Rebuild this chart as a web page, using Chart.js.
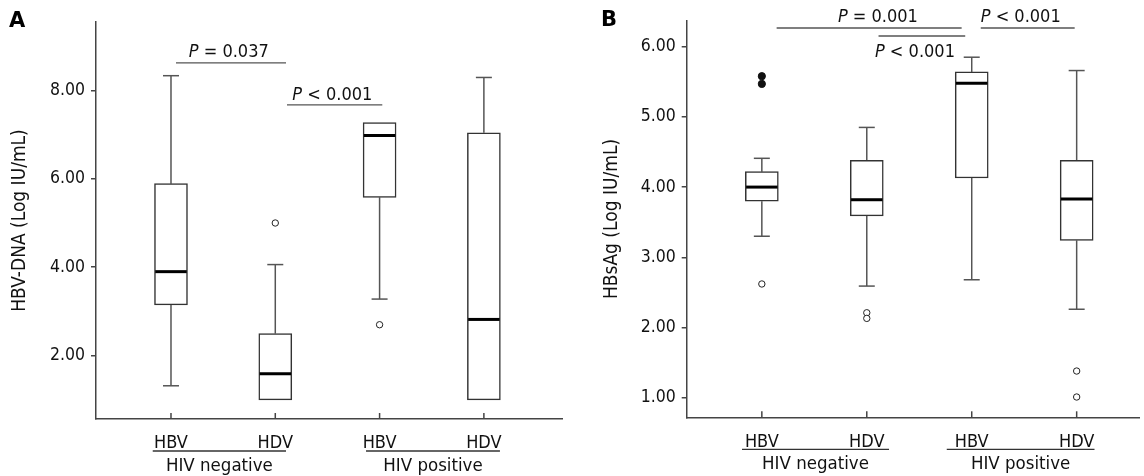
<!DOCTYPE html>
<html><head><meta charset="utf-8">
<script src="https://cdn.jsdelivr.net/npm/chart.js@4.4.1/dist/chart.umd.min.js"></script>
<style>
html,body{margin:0;padding:0;background:#fff;width:1144px;height:476px;overflow:hidden;}
.wrap{position:absolute;top:0;width:572px;height:476px;}
.lbl{position:absolute;font:bold 21px "DejaVu Sans",sans-serif;line-height:21px;color:#000;}
</style></head>
<body>
<div class="wrap" style="left:0"><canvas id="cA" width="572" height="476"></canvas></div>
<div class="wrap" style="left:572px"><canvas id="cB" width="572" height="476"></canvas></div>
<div class="lbl" style="left:9px;top:10px">A</div>
<div class="lbl" style="left:601px;top:9px">B</div>
<script>
// ---------- data ----------
const categories = ['HBV', 'HDV', 'HBV', 'HDV'];
const groupLabels = ['HIV negative', 'HIV positive'];

// Panel A: HBV-DNA (Log IU/mL)
const dnaMin = [1.32, 1.00, 3.28, 1.00];
const dnaQ1  = [3.15, 1.00, 5.58, 1.00];
const dnaMed = [3.90, 1.59, 6.98, 2.82];
const dnaQ3  = [5.89, 2.50, 7.27, 7.04];
const dnaMax = [8.33, 4.06, 7.27, 8.29];
const dnaOutliers = [[], [5.00], [2.70], []];
const dnaExtremes = [[], [], [], []];
const dnaTicks = [2, 4, 6, 8];
const dnaPTexts = [' = 0.037', ' < 0.001'];

// Panel B: HBsAg (Log IU/mL)
const sagMin = [3.30, 2.59, 2.68, 2.26];
const sagQ1  = [3.80, 3.59, 4.13, 3.24];
const sagMed = [4.00, 3.82, 5.48, 3.83];
const sagQ3  = [4.22, 4.38, 5.64, 4.38];
const sagMax = [4.41, 4.85, 5.85, 5.66];
const sagOutliers = [[2.62], [2.21, 2.13], [], [1.38, 1.01]];
const sagExtremes = [[5.58, 5.47], [], [], []];
const sagTicks = [1, 2, 3, 4, 5, 6];
const sagPTexts = [' = 0.001', ' < 0.001', ' < 0.001'];

// ---------- layout / style ----------
const FONT = '"DejaVu Sans Condensed", "DejaVu Sans", sans-serif';
const FS_YTICK = 17.5, FS_XTICK = 18, FS_GROUP = 18.5, FS_TITLE = 19, FS_P = 18;

const panelA = {
  title: 'HBV-DNA (Log IU/mL)',
  min: dnaMin, q1: dnaQ1, med: dnaMed, q3: dnaQ3, max: dnaMax,
  outliers: dnaOutliers, extremes: dnaExtremes, ticks: dnaTicks,
  yMin: 0.569, yMax: 9.544, xMin: 0.281, xMax: 4.749,
  padLeft: 0, padTop: 22, padRight: 10, yAxisWidth: 96, xAxisHeight: 57,
  groups: [[0.825, 2.103], [2.870, 4.154]],
  pvals: [
    {text: dnaPTexts[0], x1: 1.048, x2: 2.103, y: 8.62, tx: 1.554, dy: -5.4},
    {text: dnaPTexts[1], x1: 2.112, x2: 3.026, y: 7.67, tx: 2.547, dy: -5.0}
  ]
};
const panelB = {
  title: 'HBsAg (Log IU/mL)',
  min: sagMin, q1: sagQ1, med: sagMed, q3: sagQ3, max: sagMax,
  outliers: sagOutliers, extremes: sagExtremes, ticks: sagTicks,
  yMin: 0.721, yMax: 6.370, xMin: 0.284, xMax: 4.594,
  padLeft: 19.2, padTop: 20.7, padRight: 0, yAxisWidth: 95.5, xAxisHeight: 58.7,
  groups: [[0.811, 2.212], [2.762, 4.170]],
  pvals: [
    {text: sagPTexts[0], x1: 1.141, x2: 2.904, y: 6.266, tx: 2.106, dy: -6},
    {text: sagPTexts[1], x1: 2.112, x2: 2.938, y: 6.152, tx: 2.459, dy: 21.3},
    {text: sagPTexts[2], x1: 3.086, x2: 3.981, y: 6.266, tx: 3.467, dy: -6}
  ]
};

function line(ctx, x1, y1, x2, y2) {
  ctx.beginPath(); ctx.moveTo(x1, y1); ctx.lineTo(x2, y2); ctx.stroke();
}

function boxPlugin(d) {
  return {
    id: 'boxparts',
    beforeDatasetsDraw(chart) {
      const {ctx, chartArea} = chart;
      const x = chart.scales.x, y = chart.scales.y;
      ctx.save();
      ctx.strokeStyle = '#555'; ctx.lineWidth = 1.5;
      categories.forEach((c, i) => {
        const px = x.getPixelForValue(i + 1);
        if (d.max[i] > d.q3[i]) {
          line(ctx, px, y.getPixelForValue(d.q3[i]), px, y.getPixelForValue(d.max[i]));
          const py = y.getPixelForValue(d.max[i]);
          line(ctx, px - 8, py, px + 8, py);
        }
        if (d.min[i] < d.q1[i]) {
          line(ctx, px, y.getPixelForValue(d.q1[i]), px, y.getPixelForValue(d.min[i]));
          const py = y.getPixelForValue(d.min[i]);
          line(ctx, px - 8, py, px + 8, py);
        }
      });
      // inward category ticks
      ctx.strokeStyle = '#444';
      x.ticks.forEach(t => {
        const px = x.getPixelForValue(t.value);
        line(ctx, px, chartArea.bottom, px, chartArea.bottom - 6);
      });
      ctx.restore();
    },
    afterDatasetsDraw(chart) {
      const {ctx} = chart;
      const x = chart.scales.x, y = chart.scales.y;
      const bars = chart.getDatasetMeta(0).data;
      ctx.save();
      ctx.strokeStyle = '#000'; ctx.lineWidth = 3;
      categories.forEach((c, i) => {
        const px = x.getPixelForValue(i + 1);
        const hw = bars[i].width / 2 - 0.75;
        const py = y.getPixelForValue(d.med[i]);
        line(ctx, px - hw, py, px + hw, py);
      });
      ctx.restore();
    },
    afterDraw(chart) {
      const {ctx, chartArea} = chart;
      const x = chart.scales.x, y = chart.scales.y;
      ctx.save();
      // group underlines and labels
      ctx.strokeStyle = '#333'; ctx.lineWidth = 1.3;
      ctx.fillStyle = '#111';
      ctx.font = FS_GROUP + 'px ' + FONT;
      ctx.textAlign = 'center'; ctx.textBaseline = 'alphabetic';
      d.groups.forEach((g, gi) => {
        const a = x.getPixelForValue(g[0]), b = x.getPixelForValue(g[1]);
        const ly = chartArea.bottom + 32;
        line(ctx, a, ly, b, ly);
        ctx.fillText(groupLabels[gi], (a + b) / 2, chartArea.bottom + 52);
      });
      // p-value annotations
      d.pvals.forEach(p => {
        const a = x.getPixelForValue(p.x1), b = x.getPixelForValue(p.x2);
        const ly = y.getPixelForValue(p.y);
        ctx.strokeStyle = '#555'; ctx.lineWidth = 1.3;
        line(ctx, a, ly, b, ly);
        ctx.font = 'italic ' + FS_P + 'px ' + FONT;
        const wP = ctx.measureText('P').width;
        ctx.font = FS_P + 'px ' + FONT;
        const wR = ctx.measureText(p.text).width;
        const cx = x.getPixelForValue(p.tx);
        const start = cx - (wP + wR) / 2;
        ctx.textAlign = 'left';
        ctx.font = 'italic ' + FS_P + 'px ' + FONT;
        ctx.fillText('P', start, ly + p.dy);
        ctx.font = FS_P + 'px ' + FONT;
        ctx.fillText(p.text, start + wP, ly + p.dy);
      });
      ctx.restore();
    }
  };
}

function makeChart(id, d) {
  const outl = [], extr = [];
  d.outliers.forEach((arr, i) => arr.forEach(v => outl.push({x: i + 1, y: v})));
  d.extremes.forEach((arr, i) => arr.forEach(v => extr.push({x: i + 1, y: v})));
  return new Chart(document.getElementById(id), {
    type: 'bar',
    data: {
      datasets: [
        {type: 'bar', data: categories.map((c, i) => ({x: i + 1, y: [d.q1[i], d.q3[i]]})),
         backgroundColor: '#fff', borderColor: '#333', borderWidth: 1.5, borderSkipped: false,
         barThickness: 33, order: 2},
        {type: 'scatter', data: outl, pointStyle: 'circle', pointRadius: 3.2,
         borderColor: '#222', backgroundColor: '#fff', borderWidth: 1, order: 1},
        {type: 'scatter', data: extr, pointStyle: 'circle', pointRadius: 3.6,
         borderColor: '#111', backgroundColor: '#111', borderWidth: 1, order: 1}
      ]
    },
    options: {
      responsive: false, animation: false, devicePixelRatio: 1, events: [],
      layout: {padding: {left: d.padLeft, top: d.padTop, right: d.padRight, bottom: 0}},
      plugins: {legend: {display: false}, tooltip: {enabled: false}},
      scales: {
        x: {
          type: 'linear', min: d.xMin, max: d.xMax, offset: false,
          afterBuildTicks: s => { s.ticks = categories.map((c, i) => ({value: i + 1})); },
          afterFit: s => { s.height = d.xAxisHeight; },
          grid: {display: false},
          border: {display: true, color: '#444', width: 1.5},
          ticks: {callback: v => categories[Math.round(v) - 1], padding: 6, autoSkip: false, maxRotation: 0,
                  font: {family: FONT, size: FS_XTICK}, color: '#111'}
        },
        y: {
          type: 'linear', min: d.yMin, max: d.yMax,
          afterBuildTicks: s => { s.ticks = d.ticks.map(v => ({value: v})); },
          afterFit: s => { s.width = d.yAxisWidth; },
          grid: {display: true, drawOnChartArea: false, drawTicks: true, tickLength: 5, color: '#444', lineWidth: 1.5},
          border: {display: true, color: '#444', width: 1.5},
          ticks: {callback: v => Number(v).toFixed(2), padding: 6, font: {family: FONT, size: FS_YTICK}, color: '#111'},
          title: {display: true, text: d.title, font: {family: FONT, size: FS_TITLE}, color: '#111', padding: {top: 9.1, bottom: 0}}
        }
      }
    },
    plugins: [boxPlugin(d)]
  });
}

makeChart('cA', panelA);
makeChart('cB', panelB);
</script>
</body></html>
